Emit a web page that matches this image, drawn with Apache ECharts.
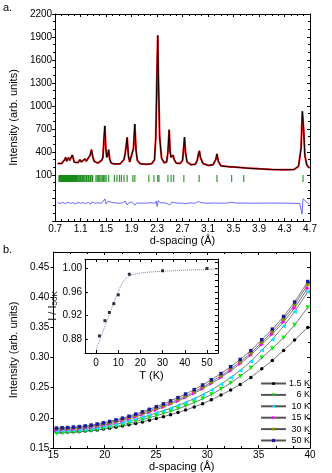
<!DOCTYPE html>
<html>
<head>
<meta charset="utf-8">
<script src="https://cdn.jsdelivr.net/npm/echarts@6/dist/echarts.min.js"></script>
<style>
  html, body { margin: 0; padding: 0; background: #fff; }
  #chart { width: 332px; height: 473px; }
</style>
</head>
<body>
<div id="chart"></div>
<script>
  // ---- panel a: diffraction pattern ----
  const pattern = [
    [0.74, 250], [0.76, 240], [0.80, 250], [0.83, 262], [0.85, 300], [0.865, 330], [0.88, 280], [0.90, 300],
    [0.91, 325], [0.93, 290], [0.95, 330], [0.97, 360], [0.99, 300], [1.00, 265], [1.03, 250], [1.06, 262],
    [1.09, 300], [1.11, 270], [1.14, 260], [1.17, 310], [1.19, 280], [1.22, 300], [1.25, 360], [1.27, 430],
    [1.29, 340], [1.31, 280], [1.34, 262], [1.37, 255], [1.40, 255], [1.43, 290], [1.45, 330], [1.465, 560],
    [1.48, 740], [1.495, 450], [1.51, 330], [1.53, 380], [1.54, 430], [1.555, 310], [1.58, 255], [1.62, 245],
    [1.65, 270], [1.68, 245], [1.72, 245], [1.75, 260], [1.78, 300], [1.80, 380], [1.83, 590], [1.85, 350],
    [1.87, 270], [1.90, 290], [1.93, 450], [1.95, 765], [1.97, 420], [1.99, 290], [2.03, 250], [2.08, 242],
    [2.13, 240], [2.18, 242], [2.22, 250], [2.26, 300], [2.28, 600], [2.30, 1500], [2.31, 1920], [2.32, 1400],
    [2.34, 600], [2.37, 320], [2.41, 260], [2.45, 270], [2.47, 400], [2.49, 690], [2.505, 400], [2.52, 330],
    [2.55, 360], [2.57, 300], [2.60, 255], [2.66, 250], [2.70, 290], [2.72, 480], [2.73, 595], [2.745, 400],
    [2.77, 270], [2.83, 235], [2.90, 240], [2.93, 290], [2.95, 380], [2.965, 415], [2.98, 330], [3.02, 250],
    [3.10, 225], [3.18, 235], [3.22, 300], [3.24, 375], [3.26, 280], [3.30, 220], [3.40, 210], [3.46, 205],
    [3.48, 218], [3.51, 205], [3.60, 198], [3.70, 190], [3.90, 180], [4.10, 172], [4.30, 168], [4.45, 172],
    [4.52, 215], [4.56, 450], [4.58, 930], [4.60, 700], [4.62, 350], [4.65, 230], [4.69, 190]
  ];
  const difference = [
    [0.74, -262], [0.78, -270], [0.82, -258], [0.86, -275], [0.90, -255], [0.94, -270], [0.98, -262],
    [1.02, -275], [1.06, -258], [1.10, -268], [1.14, -262], [1.18, -272], [1.22, -258], [1.26, -280],
    [1.28, -250], [1.32, -268], [1.38, -262], [1.43, -270], [1.46, -250], [1.48, -212], [1.50, -280],
    [1.53, -245], [1.56, -270], [1.62, -262], [1.70, -268], [1.76, -262], [1.80, -240], [1.83, -290],
    [1.86, -262], [1.90, -250], [1.93, -240], [1.95, -295], [1.98, -265], [2.10, -268], [2.20, -262],
    [2.27, -268], [2.29, -240], [2.30, -310], [2.32, -235], [2.35, -262], [2.44, -265], [2.47, -245],
    [2.50, -290], [2.53, -255], [2.56, -280], [2.60, -265], [2.70, -268], [2.72, -250], [2.74, -275],
    [2.80, -265], [2.90, -268], [2.95, -245], [2.99, -262], [3.10, -268], [3.22, -265], [3.24, -250],
    [3.27, -268], [3.40, -266], [3.47, -255], [3.52, -265], [3.80, -268], [4.10, -266], [4.40, -268],
    [4.54, -272], [4.575, -410], [4.59, -210], [4.62, -235], [4.66, -262], [4.69, -272]
  ];
  const braggD = [
    0.76, 0.77, 0.78, 0.79, 0.80, 0.81, 0.82, 0.83, 0.84, 0.85, 0.86, 0.87, 0.88, 0.89, 0.90, 0.91,
    0.92, 0.93, 0.94, 0.95, 0.96, 0.97, 0.98, 0.99, 1.00, 1.01, 1.02, 1.03, 1.04, 1.05,
    1.07, 1.08, 1.10, 1.11, 1.13, 1.14, 1.155, 1.17, 1.19, 1.20, 1.22, 1.23, 1.25, 1.26, 1.28, 1.29,
    1.34, 1.36, 1.38, 1.40, 1.42, 1.44, 1.46, 1.48, 1.50,
    1.54, 1.63, 1.67, 1.71, 1.74, 1.78, 1.83, 1.92, 1.95, 2.17, 2.25, 2.31, 2.33, 2.47, 2.52,
    2.56, 2.72, 2.96, 3.24, 3.47, 3.66, 4.59
  ];
  const braggLevel = 55;

  // ---- panel b: low-angle intensity vs d-spacing ----
  const dSpacing = [15.3, 15.85, 16.4, 16.96, 17.53, 18.1, 18.68, 19.27, 19.87, 20.48, 21.1, 21.73, 22.37,
    23.02, 23.68, 24.35, 25.03, 25.72, 26.42, 27.14, 27.88, 28.72, 29.54, 30.39, 31.33, 32.27, 33.2,
    34.24, 35.3, 36.33, 37.43, 38.5, 39.78];
  const I_1p5K = [.1760, .1763, .1765, .1769, .1773, .1780, .1789, .1800, .1813, .1828, .1845, .1864, .1885,
    .1908, .1933, .1960, .1989, .2020, .2053, .2089, .2129, .2180, .2235, .2299, .2377, .2463, .2555,
    .2670, .2815, .2952, .3118, .3290, .3500];
  const I_6K = [.1745, .1749, .1753, .1759, .1766, .1776, .1788, .1803, .1820, .1840, .1862, .1886, .1912,
    .1940, .1970, .2002, .2035, .2070, .2108, .2149, .2195, .2253, .2315, .2387, .2477, .2578, .2688,
    .2825, .2995, .3150, .3330, .3540, .3830];
  const I_10K = [.1780, .1783, .1786, .1791, .1797, .1806, .1818, .1833, .1851, .1871, .1894, .1919, .1947,
    .1977, .2009, .2043, .2080, .2119, .2161, .2206, .2255, .2318, .2385, .2462, .2559, .2668, .2786,
    .2935, .3120, .3300, .3520, .3760, .4090];
  const I_15K = [.1800, .1805, .1809, .1815, .1822, .1832, .1845, .1861, .1880, .1902, .1927, .1955, .1985,
    .2018, .2054, .2093, .2135, .2180, .2228, .2280, .2337, .2408, .2483, .2568, .2669, .2780, .2898,
    .3042, .3218, .3388, .3591, .3822, .4150];
  const I_30K = [.1820, .1825, .1829, .1836, .1843, .1854, .1867, .1883, .1902, .1924, .1949, .1977, .2008,
    .2042, .2078, .2117, .2159, .2204, .2252, .2304, .2361, .2432, .2508, .2594, .2696, .2808, .2927,
    .3073, .3252, .3426, .3635, .3874, .4212];
  const I_50K = [.1830, .1835, .1840, .1847, .1855, .1866, .1880, .1897, .1917, .1940, .1966, .1995, .2027,
    .2062, .2100, .2141, .2185, .2232, .2282, .2336, .2395, .2468, .2545, .2632, .2735, .2848, .2968,
    .3115, .3295, .3470, .3680, .3920, .4260];
  const tempLabels = ['1.5 K', '6 K', '10 K', '15 K', '30 K', '50 K'];

  // ---- inset: I / I50K vs T ----
  const insetT = [1.5, 4, 6, 8, 10, 15, 30, 50];
  const insetRatio = [0.885, 0.911, 0.925, 0.940, 0.955, 0.990, 0.996, 1.000];
  const fitT = [0, 2, 4, 6, 8, 10, 12, 14, 16, 20, 25, 30, 40, 50, 55];
  const fitRatio = [0.862, 0.882, 0.902, 0.922, 0.942, 0.960, 0.976, 0.985, 0.989, 0.992, 0.994, 0.995, 0.997, 0.998, 0.999];
  const insetXTicks = [0, 10, 20, 30, 40, 50];
  const insetXTopTicks = [0, 5, 10, 15, 20, 25, 30, 35, 40, 45, 50];
  const insetYTicks = [0.88, 0.92, 0.96, 1.00];
  const insetYRightTicks = [0.86, 0.87, 0.88, 0.89, 0.90, 0.91, 0.92, 0.93, 0.94, 0.95, 0.96, 0.97, 0.98, 0.99, 1.00, 1.01];

  const FONT = 'Liberation Sans, Arial, sans-serif';
  const black = { color: '#000', width: 1 };

  function axisBase(grid, pos, o) {
    return {
      type: 'value', gridIndex: grid, position: pos,
      min: o.min, max: o.max, interval: o.interval,
      axisLine: { show: true, onZero: false, lineStyle: black },
      axisTick: { show: true, inside: o.inside, length: o.tickLen || 3, lineStyle: black,
        customValues: o.tickValues },
      minorTick: { show: !!o.minor, splitNumber: o.minor || 2, length: 2, lineStyle: black },
      splitLine: { show: false },
      axisLabel: o.fmt ? {
        show: true, color: '#000', fontSize: o.fs || 10, fontFamily: FONT, margin: o.margin || 3,
        formatter: o.fmt, showMaxLabel: o.showMax !== false, customValues: o.labelValues
      } : { show: false },
      name: o.name || '', nameLocation: 'middle', nameGap: o.nameGap || 0,
      nameTextStyle: { color: '#000', fontSize: 11, fontFamily: FONT, rich: o.rich }
    };
  }

  const chart = echarts.init(document.getElementById('chart'));
  const lineGray = { color: '#555', width: 0.8 };

  chart.setOption({
    animation: false,
    backgroundColor: '#fff',
    graphic: [
      { type: 'text', left: 3, top: 2, style: { text: 'a.', font: '11px ' + FONT, fill: '#000' } },
      { type: 'text', left: 3, top: 244, style: { text: 'b.', font: '11px ' + FONT, fill: '#000' } }
    ],
    grid: [
      { left: 44, top: 14, width: 266, height: 207 },
      { left: 44, top: 252, width: 266, height: 196 },
      { left: 85, top: 259, width: 133, height: 94, show: true, backgroundColor: '#fff', borderWidth: 0, z: 5 }
    ],
    xAxis: [
      axisBase(0, 'bottom', { min: 0.7, max: 4.7, interval: 0.4, inside: true, minor: 4, fs: 10, margin: 3,
        fmt: v => v.toFixed(1), name: 'd-spacing (Å)', nameGap: 14 }),
      axisBase(0, 'top', { min: 0.7, max: 4.7, interval: 0.4, inside: true, minor: 4 }),
      axisBase(1, 'bottom', { min: 15, max: 40, interval: 5, inside: true, minor: 3, fs: 10, margin: 2,
        fmt: v => String(v), name: 'd-spacing (Å)', nameGap: 13 }),
      axisBase(1, 'top', { min: 15, max: 40, interval: 5, inside: true, minor: 3 }),
      Object.assign(axisBase(2, 'bottom', { min: -5, max: 55, inside: true, tickValues: insetXTicks,
        labelValues: insetXTicks, fs: 10, margin: 5, fmt: v => String(v), name: 'T (K)', nameGap: 17 }), { z: 6 }),
      Object.assign(axisBase(2, 'top', { min: -5, max: 55, inside: true, tickValues: insetXTopTicks }), { z: 6 })
    ],
    yAxis: [
      axisBase(0, 'left', { min: -500, max: 2200, interval: 300, inside: false, minor: 3, fs: 10, margin: 3,
        fmt: v => (v < 0 ? '' : String(v)), name: 'Intensity (arb. units)', nameGap: 26 }),
      axisBase(0, 'right', { min: -500, max: 2200, interval: 300, inside: true, minor: 3 }),
      axisBase(1, 'left', { min: 0.15, max: 0.475, interval: 0.05, inside: false, fs: 10, margin: 4,
        fmt: v => v.toFixed(2), showMax: false, name: 'Intensity (arb. units)', nameGap: 26 }),
      axisBase(1, 'right', { min: 0.15, max: 0.475, interval: 0.05, inside: true, minor: 2 }),
      Object.assign(axisBase(2, 'left', { min: 0.856, max: 1.016, inside: true, tickValues: insetYTicks,
        labelValues: insetYTicks, fs: 10, margin: 3, fmt: v => v.toFixed(2),
        name: '{n|I / I}{s|50K}', nameGap: 20,
        rich: { n: { fontSize: 11, fontFamily: FONT, color: '#000' },
                s: { fontSize: 8, fontFamily: FONT, color: '#000', padding: [4, 0, 0, 0] } } }), { z: 6 }),
      Object.assign(axisBase(2, 'right', { min: 0.856, max: 1.016, inside: true, tickValues: insetYRightTicks }), { z: 6 })
    ],
    legend: {
      orient: 'vertical', left: 255, top: 373, height: 80,
      itemWidth: 25, itemHeight: 4, itemGap: 0.4,
      data: tempLabels,
      formatter: name => '{t|' + name + '}',
      textStyle: { rich: { t: { width: 19, height: 11, lineHeight: 11, align: 'right',
        fontSize: 9, fontFamily: FONT, color: '#000' } } }
    },
    series: [
      { type: 'line', xAxisIndex: 0, yAxisIndex: 0, data: pattern, showSymbol: false,
        lineStyle: { color: '#ff2020', width: 2 }, z: 2 },
      { type: 'line', xAxisIndex: 0, yAxisIndex: 0, data: pattern, showSymbol: false,
        lineStyle: { color: '#000', width: 1 }, z: 3 },
      { type: 'scatter', xAxisIndex: 0, yAxisIndex: 0, data: braggD.map(d => [d, braggLevel]),
        symbol: 'rect', symbolSize: [1.2, 7], itemStyle: { color: '#008000' }, z: 2 },
      { type: 'line', xAxisIndex: 0, yAxisIndex: 0, data: difference, showSymbol: false,
        lineStyle: { color: '#4444ff', width: 0.8 }, z: 2 },

      { name: tempLabels[0], type: 'line', xAxisIndex: 2, yAxisIndex: 2,
        data: dSpacing.map((d, i) => [d, I_1p5K[i]]), symbol: 'circle', symbolSize: 3.5,
        lineStyle: lineGray, itemStyle: { color: '#000' } },
      { name: tempLabels[1], type: 'line', xAxisIndex: 2, yAxisIndex: 2,
        data: dSpacing.map((d, i) => [d, I_6K[i]]), symbol: 'triangle', symbolRotate: 180, symbolSize: 4.5,
        lineStyle: lineGray, itemStyle: { color: '#00ee00' } },
      { name: tempLabels[2], type: 'line', xAxisIndex: 2, yAxisIndex: 2,
        data: dSpacing.map((d, i) => [d, I_10K[i]]), symbol: 'triangle', symbolRotate: 90, symbolSize: 4.5,
        lineStyle: lineGray, itemStyle: { color: '#00e5ff' } },
      { name: tempLabels[3], type: 'line', xAxisIndex: 2, yAxisIndex: 2,
        data: dSpacing.map((d, i) => [d, I_15K[i]]), symbol: 'triangle', symbolRotate: -90, symbolSize: 4.5,
        lineStyle: lineGray, itemStyle: { color: '#ff00ff' } },
      { name: tempLabels[4], type: 'line', xAxisIndex: 2, yAxisIndex: 2,
        data: dSpacing.map((d, i) => [d, I_30K[i]]), symbol: 'circle', symbolSize: 4,
        lineStyle: lineGray, itemStyle: { color: '#8f8f00' } },
      { name: tempLabels[5], type: 'line', xAxisIndex: 2, yAxisIndex: 2,
        data: dSpacing.map((d, i) => [d, I_50K[i]]), symbol: 'rect', symbolSize: 3.5,
        lineStyle: lineGray, itemStyle: { color: '#1a1a99' } },

      { type: 'line', xAxisIndex: 4, yAxisIndex: 4, data: fitT.map((t, i) => [t, fitRatio[i]]),
        showSymbol: false, smooth: true, lineStyle: { color: '#7a7acc', width: 1, type: 'dotted' }, z: 7 },
      { type: 'scatter', xAxisIndex: 4, yAxisIndex: 4, data: insetT.map((t, i) => [t, insetRatio[i]]),
        symbol: 'rect', symbolSize: 3, itemStyle: { color: '#000' }, z: 8 }
    ]
  });
</script>
</body>
</html>
